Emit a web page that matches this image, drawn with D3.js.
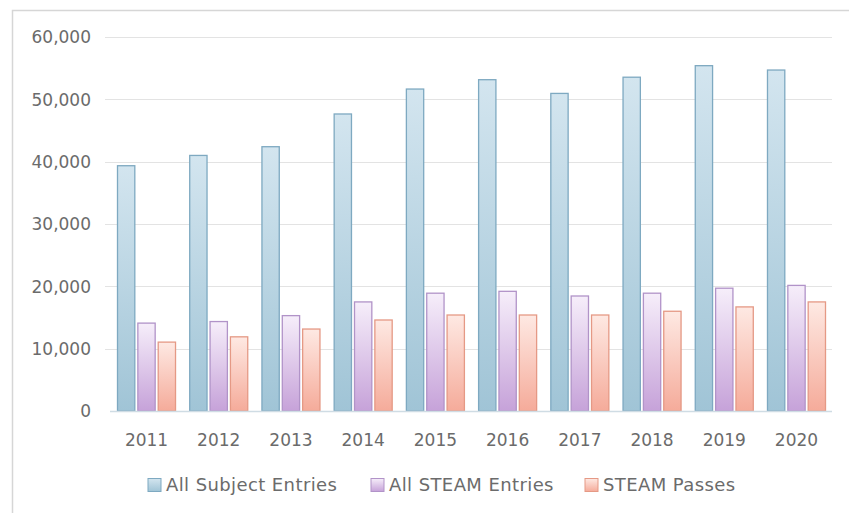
<!DOCTYPE html>
<html><head><meta charset="utf-8">
<script src="https://cdn.jsdelivr.net/npm/d3@7"></script>
<style>body{margin:0;background:#fff}svg{display:block}text{font-family:"DejaVu Sans",Verdana,sans-serif}</style>
</head><body>
<script>
const years = ["2011","2012","2013","2014","2015","2016","2017","2018","2019","2020"];
const seriesNames = ["All Subject Entries","All STEAM Entries","STEAM Passes"];
const allSubjectEntries = [39350,41000,42400,47650,51650,53150,50950,53550,55400,54700];
const allSteamEntries = [14100,14350,15300,17500,18900,19200,18450,18900,19700,20150];
const steamPasses = [11050,11900,13150,14600,15400,15400,15400,16000,16700,17500];
const yTicks = [0,10000,20000,30000,40000,50000,60000];

const W=849,H=513;
const svg=d3.select("body").append("svg").attr("width",W).attr("height",H);
const defs=svg.append("defs");
const grads=[["gBlue","#d3e5ef","#a0c4d6","#7ea9c1"],["gPurple","#f6eefa","#c6a2d9","#b193c8"],["gOrange","#fee9e3","#f5ab9a","#e59985"]];
grads.forEach(([id,top,bot])=>{
  const g=defs.append("linearGradient").attr("id",id).attr("x1",0).attr("y1",0).attr("x2",0).attr("y2",1);
  g.append("stop").attr("offset","0%").attr("stop-color",top);
  g.append("stop").attr("offset","100%").attr("stop-color",bot);
});

// frame
svg.append("path").attr("d","M12.5,513 L12.5,10.5 L849,10.5").attr("fill","none").attr("stroke","#d6d6d6").attr("stroke-width",1.5);

const x=d3.scaleBand().domain(years).range([110.4,832.6]);
const y=d3.scaleLinear().domain([0,60000]).range([411,37]);
const x1=d3.scaleBand().domain(seriesNames).range([6.6,x.bandwidth()-6.6]).paddingInner(0.1);

// gridlines
svg.append("g").selectAll("line").data(yTicks.filter(d=>d>0)).join("line")
  .attr("x1",105).attr("x2",832).attr("y1",d=>Math.round(y(d))+0.5).attr("y2",d=>Math.round(y(d))+0.5)
  .attr("stroke","#e3e3e3").attr("stroke-width",1.2);

// y labels
const yAxis=d3.axisLeft(y).tickValues(yTicks).tickFormat(d3.format(",")).tickSize(0).tickPadding(0);
const ya=svg.append("g").attr("transform","translate(91,0)").call(yAxis);
ya.select(".domain").remove();
ya.selectAll("text").attr("fill","#6b6b6b").style("font-size","17px").attr("dy","0.35em");

const data=years.map((yr,i)=>({yr,vals:[allSubjectEntries[i],allSteamEntries[i],steamPasses[i]]}));
const g=svg.append("g");
data.forEach(d=>{
  d.vals.forEach((v,k)=>{
    g.append("rect")
      .attr("x",x(d.yr)+x1(seriesNames[k])+0.5)
      .attr("y",y(v))
      .attr("width",x1.bandwidth()-1)
      .attr("height",y(0)-y(v))
      .attr("fill",`url(#${grads[k][0]})`)
      .attr("stroke",grads[k][3]).attr("stroke-width",1.3);
  });
});

// baseline
svg.append("line").attr("x1",110).attr("x2",832).attr("y1",411.5).attr("y2",411.5).attr("stroke","#cfdce4").attr("stroke-width",1.5);

// x labels
const xAxis=d3.axisBottom(x).tickSize(0).tickPadding(0);
const xa=svg.append("g").attr("transform","translate(0,440)").call(xAxis);
xa.select(".domain").remove();
xa.selectAll("text").attr("fill","#6b6b6b").style("font-size","17px").attr("dy","0.35em");

// legend
const legX=[148,371,585];
const leg=svg.append("g");
seriesNames.forEach((n,k)=>{
  leg.append("rect").attr("x",legX[k]).attr("y",478.5).attr("width",13).attr("height",13)
    .attr("fill",`url(#${grads[k][0]})`).attr("stroke",grads[k][3]).attr("stroke-width",1);
  leg.append("text").attr("x",legX[k]+18).attr("y",485).attr("dy","0.35em")
    .attr("fill","#6b6b6b").style("font-size","18px").style("letter-spacing","0.4px").text(n);
});
</script>
</body></html>
